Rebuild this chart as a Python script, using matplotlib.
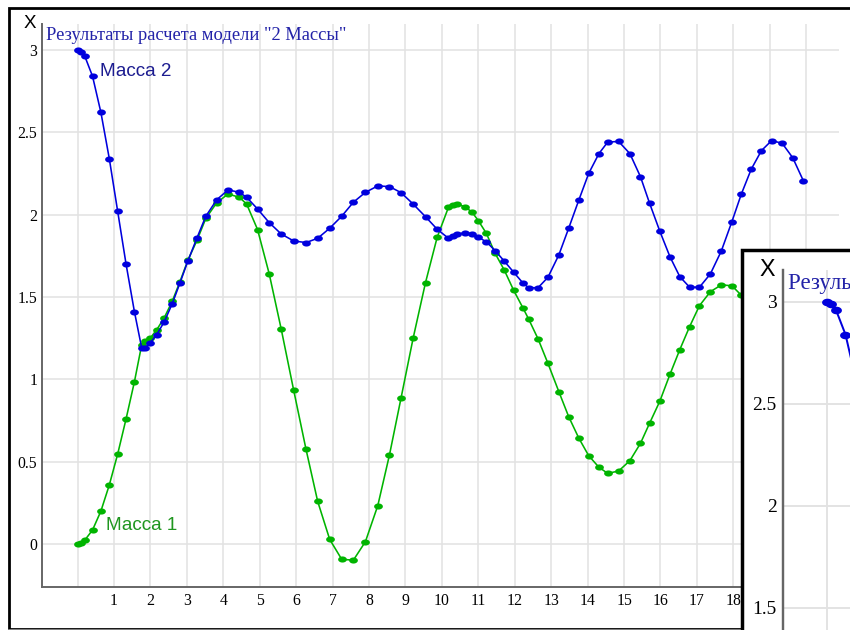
import numpy as np
import matplotlib
matplotlib.use('Agg')
import matplotlib.pyplot as plt
from matplotlib.patches import Rectangle

# time points of the solver output
t = [0.0, 0.08, 0.2, 0.41, 0.64, 0.87, 1.10, 1.33, 1.56, 1.76, 1.85, 1.99,
     2.17, 2.38, 2.60, 2.81, 3.03, 3.28, 3.52, 3.82, 4.13, 4.44, 4.64, 4.94,
     5.26, 5.59, 5.93, 6.27, 6.59, 6.92, 7.25, 7.57, 7.90, 8.24, 8.56, 8.88,
     9.21, 9.55, 9.87, 10.18, 10.30, 10.42, 10.63, 10.83, 11.00, 11.22, 11.46,
     11.71, 11.97, 12.23, 12.38, 12.64, 12.91, 13.21, 13.48, 13.76, 14.03,
     14.31, 14.55, 14.85, 15.16, 15.45, 15.70, 15.98, 16.26, 16.53, 16.80,
     17.07, 17.37, 17.67, 17.96, 18.22, 18.49, 18.77, 19.05, 19.34, 19.63,
     19.92]

# displacement of mass 2
x2 = [3.00, 2.99, 2.96, 2.84, 2.62, 2.34, 2.02, 1.70, 1.41, 1.19, 1.19, 1.22,
      1.27, 1.35, 1.46, 1.585, 1.72, 1.86, 1.99, 2.09, 2.15, 2.135, 2.105,
      2.034, 1.951, 1.882, 1.84, 1.83, 1.856, 1.917, 1.99, 2.075, 2.135, 2.174,
      2.17, 2.133, 2.064, 1.987, 1.911, 1.856, 1.868, 1.880, 1.89, 1.882,
      1.862, 1.835, 1.781, 1.718, 1.65, 1.583, 1.556, 1.556, 1.619, 1.755,
      1.917, 2.089, 2.25, 2.37, 2.44, 2.444, 2.37, 2.23, 2.069, 1.90, 1.744,
      1.623, 1.559, 1.559, 1.64, 1.779, 1.957, 2.125, 2.275, 2.388, 2.449,
      2.433, 2.345, 2.206]

# displacement of mass 1
x1 = [0.0, 0.005, 0.024, 0.085, 0.20, 0.358, 0.546, 0.759, 0.985, 1.21, 1.23,
      1.249, 1.30, 1.374, 1.475, 1.593, 1.724, 1.845, 1.977, 2.072, 2.125,
      2.105, 2.064, 1.909, 1.64, 1.304, 0.935, 0.575, 0.259, 0.028, -0.093,
      -0.098, 0.014, 0.233, 0.54, 0.888, 1.249, 1.587, 1.862, 2.044, 2.058,
      2.063, 2.048, 2.014, 1.963, 1.886, 1.765, 1.664, 1.54, 1.431, 1.366,
      1.245, 1.097, 0.925, 0.773, 0.642, 0.536, 0.466, 0.429, 0.443, 0.506,
      0.611, 0.733, 0.866, 1.03, 1.18, 1.32, 1.447, 1.532, 1.573, 1.568, 1.51,
      1.43, 1.32, 1.19, 1.05, 0.91, 0.77]

xticks = list(range(0, 21))
xticklabels = [''] + [str(i) for i in range(1, 21)]
yticks = [0, 0.5, 1, 1.5, 2, 2.5, 3]
yticklabels = ['0', '0.5', '1', '1.5', '2', '2.5', '3']

title = 'Результаты расчета модели "2 Массы"'
label2 = 'Масса 2'
label1 = 'Масса 1'

blue = '#0000dd'
green = '#00b400'
serif = 'Liberation Serif'
sans = 'Liberation Sans'

W, H = 850, 630
fig = plt.figure(figsize=(W / 100, H / 100), dpi=100)

# flattened dot used as point marker
th = np.linspace(0, 2 * np.pi, 41)
dot = list(zip(np.cos(th), 0.7 * np.sin(th)))


def add_px_axes(left, top, width, height, z=0):
    return fig.add_axes([left / W, 1 - (top + height) / H, width / W, height / H], zorder=z)


def frame(left, top, right, bottom, z, lw, ec='black'):
    r = Rectangle((left / W, 1 - bottom / H), (right - left) / W, (bottom - top) / H,
                  transform=fig.transFigure, facecolor='white', edgecolor=ec,
                  lw=lw, zorder=z)
    fig.patches.append(r)


def draw_chart(ax, s):
    ax.plot(t, x1, color=green, lw=1.15 * s, marker=dot, ms=6.3 * s, mec=green, mew=0, zorder=3)
    ax.plot(t, x2, color=blue, lw=1.15 * s, marker=dot, ms=6.3 * s, mec=blue, mew=0, zorder=4)
    ax.set_xlim(-0.977, 20.9)
    ax.set_ylim(-0.261, 3.157)
    ax.set_xticks(xticks)
    ax.set_xticklabels(xticklabels)
    ax.set_yticks(yticks)
    ax.set_yticklabels(yticklabels)
    ax.tick_params(length=0, labelsize=11.3 * s, pad=3.5 * s)
    ax.tick_params(axis='x', pad=4.5 * s)
    for lab in ax.get_xticklabels() + ax.get_yticklabels():
        lab.set_fontfamily(serif)
    ax.grid(True, color='#e2e2e2', lw=1.1 * s)
    ax.set_axisbelow(True)
    for side in ['top', 'right']:
        ax.spines[side].set_visible(False)
    for side in ['left', 'bottom']:
        ax.spines[side].set_color('#666666')
        ax.spines[side].set_linewidth(1.4 * s)
    ax.annotate('X', xy=(0, 1), xycoords='axes fraction', xytext=(-12.5 * s, 0.5 * s),
                textcoords='offset pixels', ha='center', va='center',
                fontsize=13.5 * s, family=sans, color='black')
    ax.annotate(title, xy=(0, 1), xycoords='axes fraction', xytext=(4 * s, -11 * s),
                textcoords='offset pixels', ha='left', va='center',
                fontsize=13.3 * s, family=serif, color='#2323a8')
    ax.text(0.62, 2.866, label2, fontsize=13.6 * s, family=sans, color='#1c1c90',
            ha='left', va='center')
    ax.text(0.78, 0.115, label1, fontsize=13.6 * s, family=sans, color='#1f961f',
            ha='left', va='center')


# main window
frame(9, 8, 860, 629, 0.5, 2)
ax = add_px_axes(42, 24, 797, 563, z=1)
ax.patch.set_alpha(0)
draw_chart(ax, 1.0)
# bottom edge of the window is a thin grey line
fig.add_artist(plt.Line2D([9 / W, 1], [1 - 629.5 / H] * 2, color='#9a9a9a', lw=1.2, zorder=0.6))

# second, enlarged copy of the window lying on top
k = 1.239
frame(742, 250, 742 + 851 * k, 250 + 621 * k, 5, 2.5)
ax2 = add_px_axes(742 + 33 * k, 250 + 16 * k, 797 * k, 563 * k, z=6)
ax2.patch.set_alpha(0)
draw_chart(ax2, k)

fig.savefig('out.png', dpi=100)
